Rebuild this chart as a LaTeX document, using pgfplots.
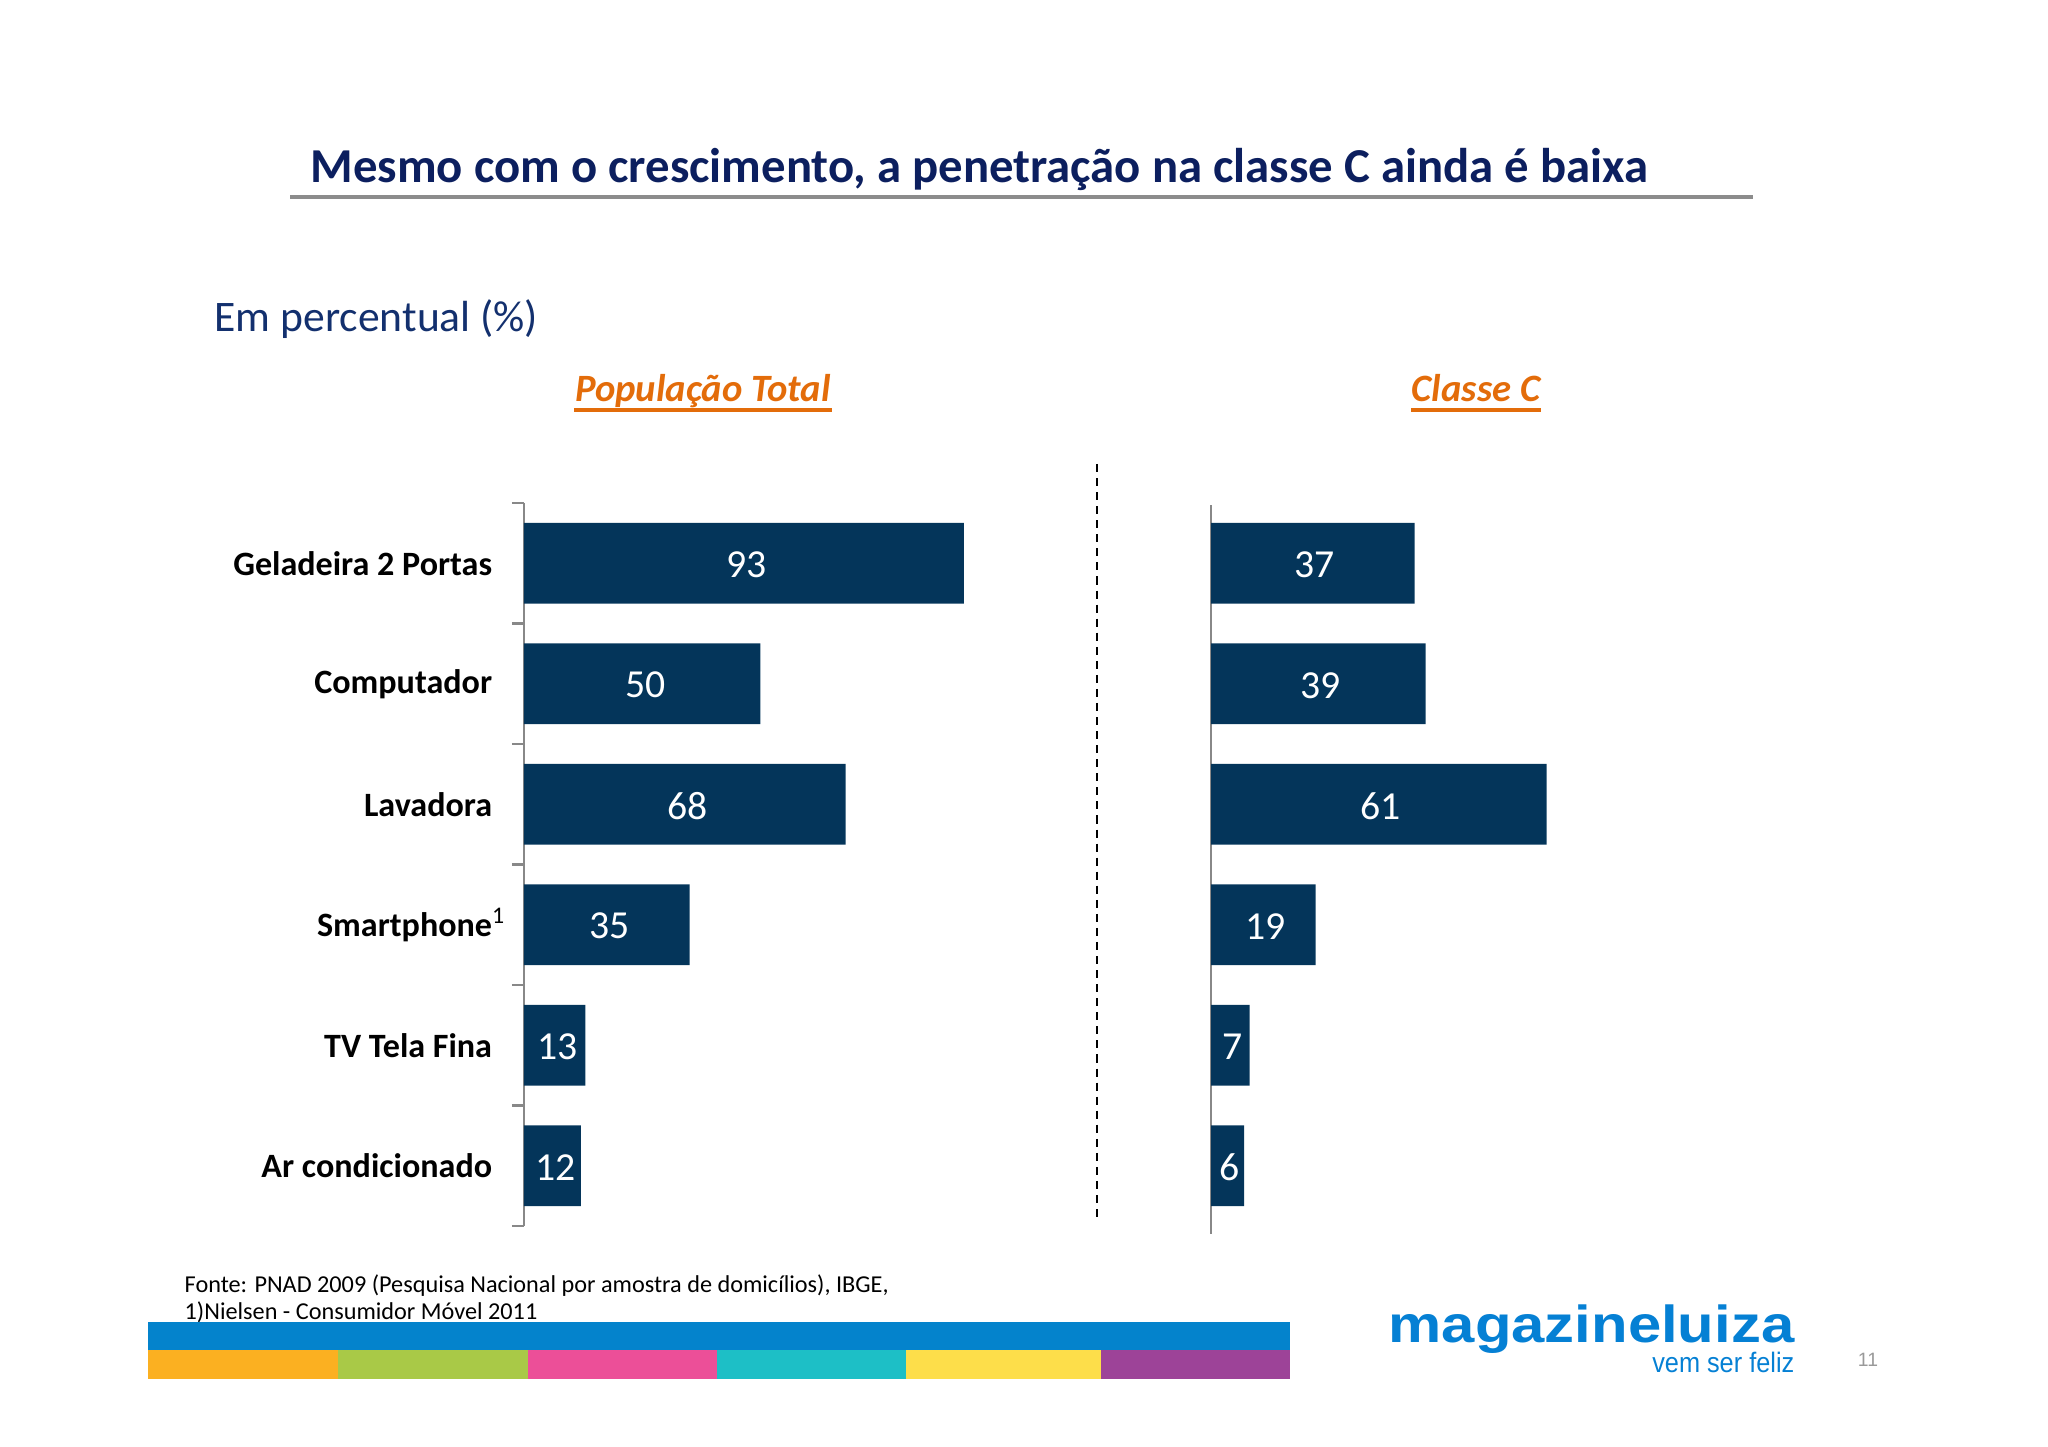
\documentclass[border=0pt]{standalone}
\usepackage{fontspec}
\setmainfont{Carlito}
\newfontfamily\logofont{Liberation Sans}
\usepackage{graphicx}
\usepackage{pgfplots}
\pgfplotsset{compat=1.18}
\usepackage{pgfplotstable}
\definecolor{barblue}{HTML}{04355A}
\definecolor{titlenavy}{HTML}{0C1F5F}
\definecolor{subnavy}{HTML}{13306E}
\definecolor{orangeh}{HTML}{E36C0A}
\definecolor{axisgray}{HTML}{888888}
\definecolor{logoblue}{HTML}{0580D4}
\definecolor{stripblue}{HTML}{0483CC}
\definecolor{s1}{HTML}{FBB021}
\definecolor{s2}{HTML}{A9C947}
\definecolor{s3}{HTML}{EC4F98}
\definecolor{s4}{HTML}{1DBFC6}
\definecolor{s5}{HTML}{FDDE4A}
\definecolor{s6}{HTML}{9D4398}

\pgfplotstableread{
y tot cc
1 93 37
2 50 39
3 68 61
4 35 19
5 13 7
6 12 6
}\penetr

\begin{document}
\begin{tikzpicture}
\path[use as bounding box] (0,0) rectangle (20.48,-14.47);

% title
\node[anchor=base west, inner sep=0, text=titlenavy, font=\bfseries\fontsize{13.87}{16}\selectfont] at (3.10,-1.83) {Mesmo com o crescimento, a penetração na classe C ainda é baixa};
\draw[line width=1.4pt, draw=black!45] (2.90,-1.97) -- (17.53,-1.97);

\node[anchor=base west, inner sep=0, text=subnavy, font=\fontsize{12.4}{14}\selectfont] at (2.14,-3.32) {Em percentual (\%)};

\node[anchor=base, inner sep=0, text=orangeh, font=\bfseries\itshape\fontsize{11}{13}\selectfont] (pt) at (7.03,-4.02) {População Total};
\draw[orangeh, line width=1.1pt] ([yshift=-0.08cm]pt.base west) -- ([yshift=-0.08cm]pt.base east);
\node[anchor=base, inner sep=0, text=orangeh, font=\bfseries\itshape\fontsize{11}{13}\selectfont] (cc) at (14.76,-4.02) {Classe C};
\draw[orangeh, line width=1.1pt] ([yshift=-0.08cm]cc.base west) -- ([yshift=-0.08cm]cc.base east);

% left chart
\begin{axis}[
 at={(5.24cm,-5.03cm)}, anchor=north west, scale only axis,
 width=4.73cm, height=7.23cm,
 xmin=0, xmax=100, ymin=0.5, ymax=6.5, y dir=reverse,
 hide x axis, axis y line*=left,
 y axis line style={draw=axisgray, line width=0.8pt},
 ytick={1,2,3,4,5,6},
 yticklabels={Geladeira 2 Portas, Computador, Lavadora, Smartphone\rlap{\textsuperscript{\mdseries 1}}, TV Tela Fina, Ar condicionado},
 major tick length=0pt,
 minor ytick={0.5,1.5,2.5,3.5,4.5,5.5,6.5},
 minor tick length=0.12cm, tick align=outside,
 minor tick style={draw=axisgray, line width=0.6pt},
 yticklabel style={font=\bfseries\fontsize{9.7}{11}\selectfont, text=black, xshift=-0.195cm},
 /pgf/number format/assume math mode=true,
 clip=false,
]
\addplot[xbar, bar shift=0pt, bar width=0.67, fill=barblue, draw=none] table[x=tot, y=y] {\penetr};
\addplot[draw=none, mark=none, nodes near coords, point meta=explicit,
  every node near coord/.append style={anchor=center, text=white, xshift=0.03cm, yshift=-0.015cm, font=\fontsize{11.3}{13}\selectfont}]
  table[x expr=\thisrow{tot}/2, y=y, meta=tot] {\penetr};
\end{axis}

% right chart
\begin{axis}[
 at={(12.11cm,-5.05cm)}, anchor=north west, scale only axis,
 width=5.5cm, height=7.29cm,
 xmin=0, xmax=100, ymin=0.5166, ymax=6.566, y dir=reverse,
 hide x axis, axis y line*=left,
 y axis line style={draw=axisgray, line width=0.8pt},
 ytick=\empty,
 /pgf/number format/assume math mode=true,
 clip=false,
]
\addplot[xbar, bar shift=0pt, bar width=0.67, fill=barblue, draw=none] table[x=cc, y=y] {\penetr};
\addplot[draw=none, mark=none, nodes near coords, point meta=explicit,
  every node near coord/.append style={anchor=center, text=white, xshift=0.02cm, yshift=-0.015cm, font=\fontsize{11.3}{13}\selectfont}]
  table[x expr=\thisrow{cc}/2, y=y, meta=cc] {\penetr};
\end{axis}

% dashed separator
\draw[black, line width=0.85pt, dash pattern=on 2.3pt off 1.7pt] (10.97,-4.64) -- (10.97,-12.21);

% footer
\node[anchor=base west, inner sep=0, font=\fontsize{6.9}{8}\selectfont] at (1.84,-12.93) {Fonte: PNAD 2009 (Pesquisa Nacional por amostra de domicílios), IBGE,};
\node[anchor=base west, inner sep=0, font=\fontsize{6.9}{8}\selectfont] at (1.84,-13.20) {1)Nielsen - Consumidor Móvel 2011};

\fill[stripblue] (1.48,-13.22) rectangle (12.90,-13.50);
\fill[s1] (1.48,-13.50) rectangle (3.38,-13.79);
\fill[s2] (3.38,-13.50) rectangle (5.28,-13.79);
\fill[s3] (5.28,-13.50) rectangle (7.17,-13.79);
\fill[s4] (7.17,-13.50) rectangle (9.06,-13.79);
\fill[s5] (9.06,-13.50) rectangle (11.01,-13.79);
\fill[s6] (11.01,-13.50) rectangle (12.90,-13.79);

% logo
\node[anchor=base east, inner sep=0, text=logoblue, font=\logofont\bfseries\fontsize{14.8}{16}\selectfont] at (17.95,-13.43) {\scalebox{1.15}[1]{magazineluiza}};
\node[anchor=base east, inner sep=0, text=logoblue, font=\logofont\fontsize{8}{9}\selectfont] at (17.95,-13.73) {\scalebox{0.9}[1]{vem ser feliz}};
\node[inner sep=0, text=black!40, font=\logofont\fontsize{5.5}{6}\selectfont] at (18.68,-13.60) {11};
\end{tikzpicture}
\end{document}
